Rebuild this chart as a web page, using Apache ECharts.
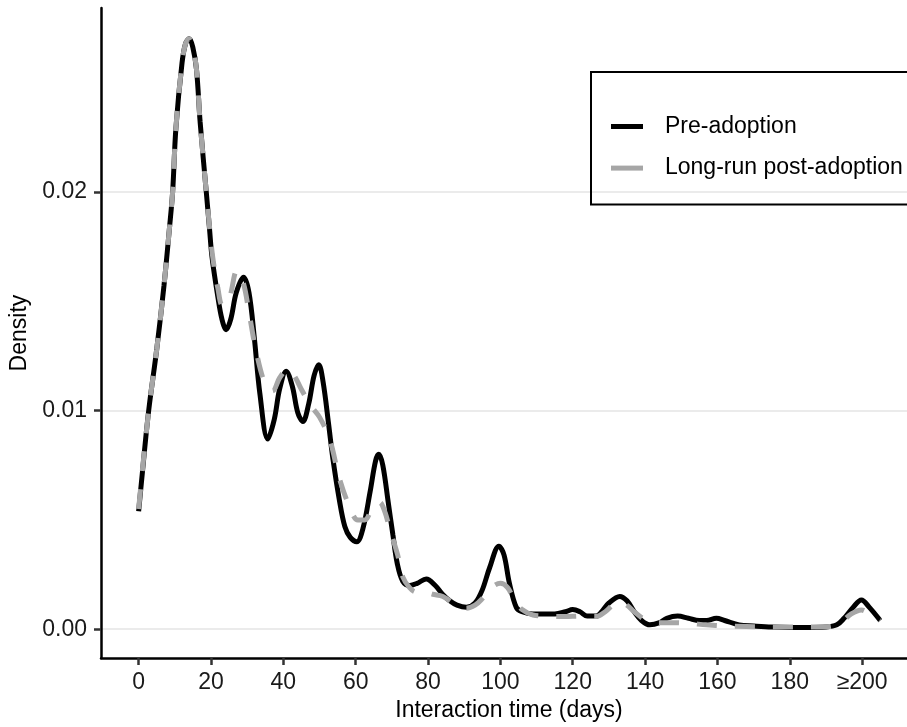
<!DOCTYPE html>
<html>
<head>
<meta charset="utf-8">
<script src="https://cdn.jsdelivr.net/npm/echarts@6/dist/echarts.min.js"></script>
<style>
html,body{margin:0;padding:0;background:#fff;}
#chart{width:907px;height:727px;}
</style>
</head>
<body>
<div id="chart"></div>
<script>
const seriesNames = ['Pre-adoption', 'Long-run post-adoption'];
const xTickValues = [0, 20, 40, 60, 80, 100, 120, 140, 160, 180, 200];
const xTickLabels = ['0', '20', '40', '60', '80', '100', '120', '140', '160', '180', '≥200'];
const yTickValues = [0, 0.01, 0.02];
const yTickLabels = ['0.00', '0.01', '0.02'];

const preDays = [0,1,2,3,5,7,8.5,9.4,10.3,12,13,14,15,16,17,18.7,19.6,20.3,21.9,23,24.2,25.5,27,29,30.5,32,33.5,35.7,37.5,39,40.8,42.5,44,45.4,47,48.5,49.8,51,52.5,53.7,55.5,57,58.5,60.3,62,64,65.5,66.4,67.5,69,70.3,71.5,73,75,77,79.5,82,84,86,88,90.6,93,95,97,99.6,101,102.5,104.4,106,109,112,115,118,120,122,124,126.5,128,130,133,135,137,139,141.3,144,146,149,152,155,157,159.7,162,166,170,175,180,185,190,193,195,197.5,199.8,202,205];
const preDensity = [0.0054,0.0071,0.0088,0.0103,0.0128,0.0157,0.0183,0.0200,0.0229,0.0259,0.0268,0.0270,0.0266,0.0256,0.0232,0.0200,0.0183,0.0170,0.0152,0.0142,0.0137,0.0142,0.0154,0.0161,0.0154,0.0133,0.0108,0.0087,0.0096,0.0110,0.0118,0.0111,0.0099,0.0095,0.0103,0.0116,0.0121,0.0113,0.0094,0.0078,0.0059,0.0047,0.0042,0.0040,0.0046,0.0063,0.0077,0.0080,0.0075,0.0058,0.0043,0.0030,0.0022,0.0020,0.0021,0.0023,0.0020,0.0016,0.0013,0.0011,0.0010,0.0012,0.0018,0.0028,0.0038,0.0034,0.0021,0.0010,0.0008,0.0007,0.0007,0.0007,0.0008,0.0009,0.0008,0.0006,0.0006,0.0008,0.0012,0.0015,0.0013,0.0008,0.0004,0.0002,0.0003,0.0005,0.0006,0.0005,0.0004,0.0004,0.0005,0.0004,0.0002,0.00015,0.0001,0.00008,0.00008,0.0001,0.0002,0.0005,0.0010,0.00134,0.0010,0.0004];

const postDays = [0,1,2,3,5,7,8.5,9.4,10.3,12,13,14,15,16,17,18.7,19.6,20.5,21.9,23.2,25,27.2,29,30.5,32.5,35,37,39,41.2,43,44.9,47.7,50,52.8,55.5,58.3,60.6,62.5,64.5,66.6,68,69.4,71.6,73,74.9,76.7,79,81.3,84.1,87,90.6,93,95,97.5,100,102,104,106,109,113,118,122,126.5,129,131,133,135,137,140.4,144,148,152,157,162,168,175,180,185,191,194,197,199.8,202,205];
const postDensity = [0.0055,0.0072,0.0088,0.0103,0.0128,0.0157,0.0183,0.0200,0.0229,0.0259,0.0268,0.0270,0.0266,0.0256,0.0232,0.0200,0.0184,0.0170,0.0156,0.0148,0.0151,0.0164,0.0158,0.0145,0.0127,0.0112,0.0109,0.0115,0.0119,0.0116,0.0110,0.0102,0.0097,0.0087,0.0069,0.0056,0.0050,0.0050,0.0055,0.0058,0.0054,0.0046,0.0034,0.0024,0.0019,0.0017,0.0017,0.0016,0.0015,0.0012,0.00096,0.0011,0.0014,0.0019,0.0021,0.0019,0.0013,0.0009,0.00065,0.0006,0.00058,0.0006,0.00058,0.0008,0.0011,0.00126,0.0011,0.0008,0.0004,0.0003,0.0003,0.00027,0.0002,0.00015,0.00012,0.0001,0.0001,0.0001,0.00012,0.0003,0.0007,0.00088,0.0007,0.0004];

const FONT = "'Liberation Sans', Arial, sans-serif";
const FS = 23;
const zip = (xs, ys) => xs.map((x, i) => [x, ys[i]]);

const chart = echarts.init(document.getElementById('chart'), null, {renderer: 'canvas'});
chart.setOption({
  animation: false,
  backgroundColor: '#ffffff',
  grid: {left: 101, right: 0, top: 8, bottom: 67, containLabel: false},
  legend: {
    orient: 'vertical',
    left: 591,
    top: 72,
    data: seriesNames,
    icon: 'rect',
    itemWidth: 32,
    itemHeight: 5,
    itemGap: 18.6,
    padding: [43, 40, 25, 20],
    borderColor: '#000',
    borderWidth: 2,
    textStyle: {fontFamily: FONT, fontSize: FS, color: '#000', padding: [0, 0, 0, 17], lineHeight: 22}
  },
  xAxis: {
    type: 'value',
    min: -10.4,
    max: 212.4,
    name: 'Interaction time (days)',
    nameLocation: 'middle',
    nameGap: 40,
    nameTextStyle: {fontFamily: FONT, fontSize: FS, color: '#000', padding: [0, 0, 0, 10]},
    axisLine: {show: true, onZero: false, lineStyle: {color: '#000', width: 2.5}},
    axisTick: {show: true, length: 7, lineStyle: {color: '#333', width: 2.5}, customValues: xTickValues},
    axisLabel: {
      fontFamily: FONT, fontSize: FS, color: '#1a1a1a', margin: 13,
      customValues: xTickValues,
      formatter: v => xTickLabels[xTickValues.indexOf(Math.round(v))]
    },
    splitLine: {show: false}
  },
  yAxis: {
    type: 'value',
    min: -0.00132,
    max: 0.02841,
    name: 'Density',
    nameLocation: 'middle',
    nameGap: 69,
    nameTextStyle: {fontFamily: FONT, fontSize: FS, color: '#000'},
    axisLine: {show: true, onZero: false, lineStyle: {color: '#000', width: 2.5}},
    axisTick: {show: true, length: 7, lineStyle: {color: '#333', width: 2.5}, customValues: yTickValues},
    axisLabel: {
      fontFamily: FONT, fontSize: FS, color: '#1a1a1a', margin: 14,
      customValues: yTickValues,
      formatter: v => yTickLabels[yTickValues.findIndex(t => Math.abs(t - v) < 1e-9)]
    },
    splitLine: {show: true, lineStyle: {color: '#ebebeb', width: 2}}
  },
  series: [
    {
      name: seriesNames[0],
      type: 'line',
      data: zip(preDays, preDensity),
      smooth: 0.35,
      showSymbol: false,
      symbol: 'none',
      itemStyle: {color: '#000'},
      lineStyle: {color: '#000', width: 5}
    },
    {
      name: seriesNames[1],
      type: 'line',
      data: zip(postDays, postDensity),
      smooth: 0.35,
      showSymbol: false,
      symbol: 'none',
      itemStyle: {color: '#a6a6a6'},
      lineStyle: {color: '#a6a6a6', width: 5, type: [20, 18], cap: 'butt'}
    }
  ]
});
</script>
</body>
</html>
